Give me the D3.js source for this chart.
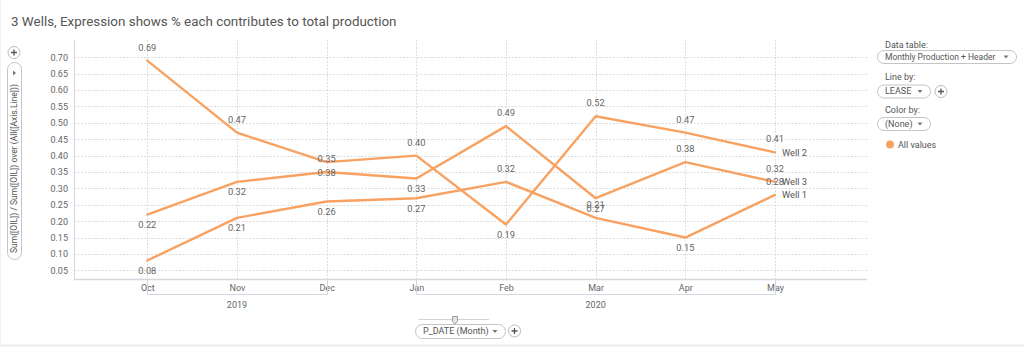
<!DOCTYPE html>
<html>
<head>
<meta charset="utf-8">
<script src="https://cdn.jsdelivr.net/npm/d3@7"></script>
<style>
  html, body { margin: 0; padding: 0; background: #fff; }
  svg { display: block; font-family: Roboto, "Open Sans", sans-serif; }
</style>
</head>
<body>
<svg id="chart" width="1024" height="347"></svg>
<script>
// Share of total oil production per well, by month
const months = ["Oct", "Nov", "Dec", "Jan", "Feb", "Mar", "Apr", "May"];
const monthYears = ["2019", "2019", "2019", "2020", "2020", "2020", "2020", "2020"];
const wellNames = ["Well 1", "Well 2", "Well 3"];
const well1 = [0.08, 0.21, 0.26, 0.27, 0.32, 0.21, 0.15, 0.28];
const well2 = [0.69, 0.47, 0.38, 0.40, 0.19, 0.52, 0.47, 0.41];
const well3 = [0.22, 0.32, 0.35, 0.33, 0.49, 0.27, 0.38, 0.32];
const yTickValues = [0.05, 0.10, 0.15, 0.20, 0.25, 0.30, 0.35, 0.40, 0.45, 0.50, 0.55, 0.60, 0.65, 0.70];

const title = "3 Wells, Expression shows % each contributes to total production";
const yAxisTitle = "Sum([OIL]) / Sum([OIL]) over (All([Axis.Line]))";
const xAxisTitle = "P_DATE (Month)";

const series = [
  { name: wellNames[1], values: well2 },
  { name: wellNames[2], values: well3 },
  { name: wellNames[0], values: well1 }
];

const lineColor = "#F8A262";
const textColor = "#666";

const svg = d3.select("#chart");

// panel frame
svg.append("line").attr("x1", 0).attr("x2", 1024).attr("y1", 345.5).attr("y2", 345.5)
  .attr("stroke", "#ececf2").attr("stroke-width", 2);
svg.append("line").attr("x1", 0.5).attr("x2", 0.5).attr("y1", 0).attr("y2", 346)
  .attr("stroke", "#f2f2f6");

// title
svg.append("text").attr("x", 11).attr("y", 26)
  .attr("font-size", 13.4).attr("fill", "#555").text(title);

// plot geometry
const plot = { left: 74, right: 867, top: 40, bottom: 279 };

const x = d3.scalePoint().domain(months).range([147.3, 775]);
const y = d3.scaleLinear().domain([0.0235, 0.7528]).range([plot.bottom, plot.top]);

const g = svg.append("g");

// horizontal grid
g.append("g").selectAll("line").data(yTickValues).join("line")
  .attr("x1", plot.left).attr("x2", plot.right)
  .attr("y1", d => Math.round(y(d)) + 0.5).attr("y2", d => Math.round(y(d)) + 0.5)
  .attr("stroke", "#dcdcdc").attr("stroke-dasharray", "2,1.5");

// vertical grid
g.append("g").selectAll("line").data(months).join("line")
  .attr("x1", d => Math.round(x(d)) + 0.5).attr("x2", d => Math.round(x(d)) + 0.5)
  .attr("y1", plot.top).attr("y2", plot.bottom)
  .attr("stroke", "#dcdcdc").attr("stroke-dasharray", "2,1.5");

// y axis labels
const yAxis = d3.axisLeft(y).tickValues(yTickValues).tickFormat(d3.format(".2f")).tickSize(0).tickPadding(6);
const yAxisG = svg.append("g").attr("transform", `translate(${plot.left},0)`).call(yAxis);
yAxisG.select(".domain").remove();
yAxisG.selectAll("text").attr("fill", textColor).attr("font-size", 9).attr("font-family", "Roboto");

// axis lines
svg.append("line").attr("x1", plot.left + 0.5).attr("x2", plot.left + 0.5)
  .attr("y1", plot.top).attr("y2", plot.bottom).attr("stroke", "#d6d6de");
svg.append("line").attr("x1", plot.left).attr("x2", plot.right)
  .attr("y1", plot.bottom + 0.5).attr("y2", plot.bottom + 0.5).attr("stroke", "#d6d6de").attr("stroke-width", 1.5);

// x axis month labels
const xAxis = d3.axisBottom(x).tickSize(0).tickPadding(6);
const xAxisG = svg.append("g").attr("transform", `translate(0,${plot.bottom})`).call(xAxis);
xAxisG.select(".domain").remove();
xAxisG.selectAll("text").attr("fill", textColor).attr("font-size", 9).attr("font-family", "Roboto");

// year brackets
const yearGroups = d3.groups(months.map((m, i) => ({ m, yr: monthYears[i] })), d => d.yr);
const bracketY = 294.5;
const yg = svg.append("g");
yearGroups.forEach(([yr, ms]) => {
  const x0 = Math.round(x(ms[0].m)) + 0.5;
  const x1 = Math.round(x(ms[ms.length - 1].m)) + 0.5;
  yg.append("path")
    .attr("d", `M${x0},${plot.bottom}V${bracketY}H${x1}V${plot.bottom}`)
    .attr("fill", "none").attr("stroke", "#d6d6de");
  const mid = ms[Math.floor((ms.length - 1) / 2)].m;
  yg.append("text").attr("x", x(mid)).attr("y", 308)
    .attr("text-anchor", "middle").attr("font-size", 9).attr("fill", textColor).text(yr);
});

// lines
const line = d3.line().x((d, i) => x(months[i])).y(d => y(d));
const lg = svg.append("g");
series.forEach(s => {
  lg.append("path").datum(s.values).attr("d", line)
    .attr("fill", "none").attr("stroke", lineColor).attr("stroke-width", 2.4)
    .attr("stroke-linejoin", "round").attr("stroke-linecap", "round");
});

// value labels: placed below a point when the next value rises, otherwise above
const labG = svg.append("g");
series.forEach(s => {
  s.values.forEach((v, i) => {
    const next = s.values[i + 1];
    const below = next !== undefined && next > v;
    labG.append("text")
      .attr("x", x(months[i]))
      .attr("y", below ? y(v) + 13.5 : y(v) - 10)
      .attr("text-anchor", "middle").attr("font-size", 9.3).attr("fill", textColor)
      .text(d3.format(".2f")(v));
  });
  const last = s.values[s.values.length - 1];
  labG.append("text")
    .attr("x", x(months[months.length - 1]) + 7)
    .attr("y", y(last) + 3.3)
    .attr("font-size", 9.3).attr("fill", "#555").text(s.name);
});

// ---- controls ----
function pill(parent, x0, y0, w, h, label, arrow, fs) {
  const c = parent.append("g");
  c.append("rect").attr("x", x0 + 0.5).attr("y", y0 + 0.5).attr("width", w).attr("height", h)
    .attr("rx", h / 2).attr("fill", "#fff").attr("stroke", "#c4c4c4");
  c.append("text").attr("x", x0 + 8).attr("y", y0 + h / 2 + 3.3)
    .attr("font-size", fs || 9).attr("fill", "#555").text(label);
  if (arrow) {
    const ax = x0 + w - 10, ay = y0 + h / 2;
    c.append("path").attr("d", `M${ax - 2.5},${ay - 1}h5l-2.5,3z`).attr("fill", "#777");
  }
  return c;
}
function plusButton(parent, cx, cy) {
  const c = parent.append("g");
  c.append("circle").attr("cx", cx).attr("cy", cy).attr("r", 6)
    .attr("fill", "#fff").attr("stroke", "#bbb");
  c.append("path").attr("d", `M${cx - 3},${cy}h6M${cx},${cy - 3}v6`)
    .attr("stroke", "#555").attr("stroke-width", 1.3);
}

const ctl = svg.append("g");

// right-hand configuration panel
ctl.append("text").attr("x", 885).attr("y", 48).attr("font-size", 9).attr("fill", "#555").text("Data table:");
pill(ctl, 877, 50, 139, 13, "Monthly Production + Header", true, 8.5);
ctl.append("text").attr("x", 885).attr("y", 80).attr("font-size", 9).attr("fill", "#555").text("Line by:");
pill(ctl, 877, 84.5, 53, 13, "LEASE", true);
plusButton(ctl, 941, 91.5);
ctl.append("text").attr("x", 885).attr("y", 113).attr("font-size", 9).attr("fill", "#555").text("Color by:");
pill(ctl, 877, 117, 53, 13, "(None)", true);
ctl.append("circle").attr("cx", 890).attr("cy", 144.5).attr("r", 4).attr("fill", lineColor);
ctl.append("text").attr("x", 898).attr("y", 147.7).attr("font-size", 9).attr("fill", "#555").text("All values");

// vertical axis selector
plusButton(ctl, 14, 52.5);
const vp = ctl.append("g");
vp.append("rect").attr("x", 7.5).attr("y", 62.5).attr("width", 14).attr("height", 197)
  .attr("rx", 7).attr("fill", "#fff").attr("stroke", "#c4c4c4");
vp.append("path").attr("d", "M13,70.5l3,2.5l-3,2.5z").attr("fill", "#777");
vp.append("text").attr("transform", "translate(17.3,253) rotate(-90)")
  .attr("font-size", 8.5).attr("fill", "#555").text(yAxisTitle);

// horizontal axis selector with slider
ctl.append("line").attr("x1", 418).attr("x2", 489).attr("y1", 319.5).attr("y2", 319.5)
  .attr("stroke", "#d4d4d4");
ctl.append("path").attr("d", "M452.5,316.5h5v5l-2.5,2.5l-2.5,-2.5z")
  .attr("fill", "#e4e4e4").attr("stroke", "#999");
pill(ctl, 415, 324, 90, 14, xAxisTitle, true);
plusButton(ctl, 514.5, 331);
</script>
</body>
</html>
